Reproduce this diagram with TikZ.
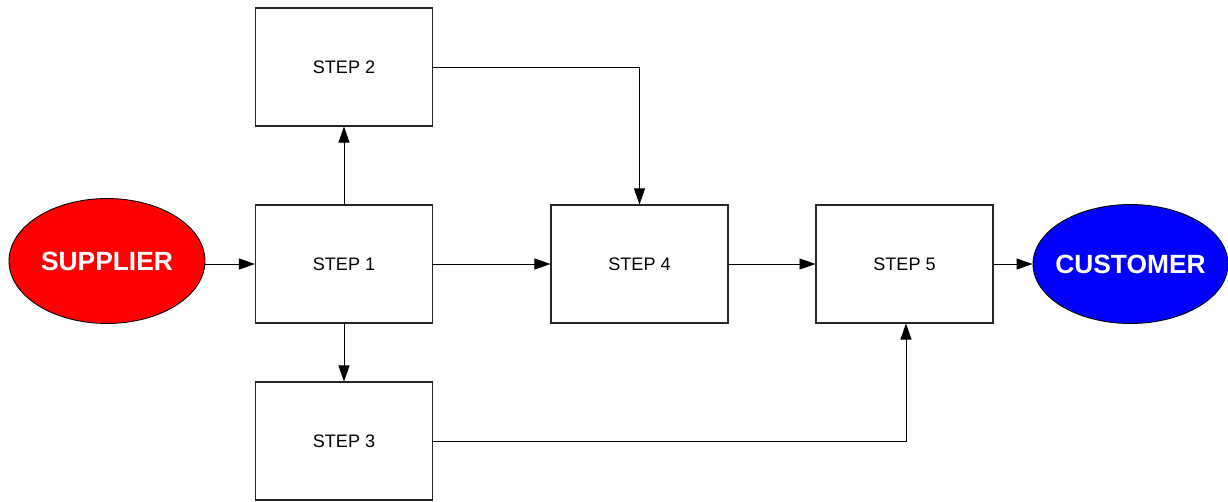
\documentclass[tikz,border=0pt]{standalone}
\usepackage{fontspec}
\setmainfont{Liberation Sans}
\usetikzlibrary{arrows.meta,shapes.geometric}
\begin{document}
\begin{tikzpicture}[x=0.02cm,y=-0.02cm,
  stepbox/.style={draw=black!85, line width=0.6pt, fill=white, rectangle, minimum width=3.54cm, minimum height=2.36cm, inner sep=0pt, font=\fontsize{10.3}{12}\selectfont},
  endnode/.style={draw=black, line width=0.5pt, ellipse, inner sep=0pt},
  endlabel/.style={label={[text=white, font=\fontsize{15}{18}\selectfont\bfseries]center:#1}},
  conn/.style={draw=black, line width=0.55pt, -{Triangle[length=0.32cm,width=0.22cm]}}]
\useasboundingbox (0,0) rectangle (1228,501);
\node[endnode, fill=red, minimum width=3.92cm, minimum height=2.5cm, endlabel=SUPPLIER] (sup) at (107,261) {};
\node[stepbox] (s1) at (344,264) {STEP 1};
\node[stepbox] (s2) at (344,67) {STEP 2};
\node[stepbox] (s3) at (344,441) {STEP 3};
\node[stepbox] (s4) at (639.5,264) {STEP 4};
\node[stepbox] (s5) at (904.5,264) {STEP 5};
\node[endnode, fill=blue, minimum width=3.9cm, minimum height=2.38cm, endlabel=CUSTOMER] (cus) at (1130.5,264) {};
\draw[conn] (sup.east |- s1.west) -- (s1.west);
\draw[conn] (s1.north) -- (s2.south);
\draw[conn] (s1.south) -- (s3.north);
\draw[conn] (s1.east) -- (s4.west);
\draw[conn] (s2.east) -| (s4.north);
\draw[conn] (s4.east) -- (s5.west);
\draw[conn] (s3.east) -| ([xshift=0.03cm]s5.south);
\draw[conn] (s5.east) -- (cus.west);
\end{tikzpicture}
\end{document}
